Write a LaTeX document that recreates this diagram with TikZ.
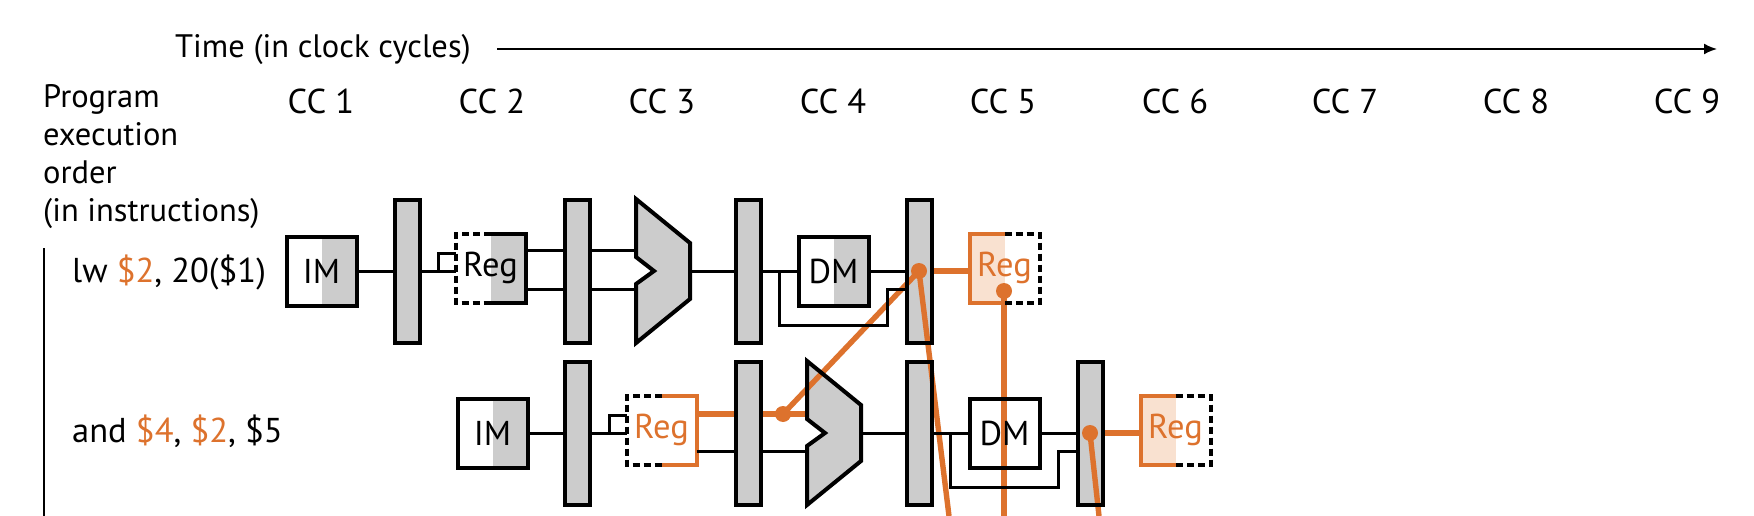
\documentclass[tikz,border=0pt]{standalone}
\usepackage{fontspec}
\setmainfont{PT Sans}
\usetikzlibrary{arrows.meta}
\definecolor{stagegray}{HTML}{CCCCCC}
\definecolor{fwdorange}{HTML}{DD722D}
\definecolor{wblight}{HTML}{F9E1D0}
\pgfdeclarelayer{back}
\pgfdeclarelayer{wire}
\pgfsetlayers{back,wire,main}
\tikzset{
    lbl/.style={font=\fontsize{32.5}{38}\selectfont, inner sep=0pt},
    biglbl/.style={font=\fontsize{34.5}{38}\selectfont, inner sep=0pt},
    pipereg/.style={draw, line width=4pt, outer sep=0pt, minimum width=25pt, minimum height=143pt},
    unitbox/.style={biglbl, line width=4pt, outer sep=0pt, minimum width=70pt, minimum height=69pt},
    alu/.style={draw, line width=4pt, line join=miter},
    halfdash/.style={line width=4pt, dash pattern=on 7pt off 4pt},
    halfline/.style={line width=4pt},
    bus/.style={line width=3pt},
    fwd/.style={fwdorange, line width=5.4pt},
    fwddot/.style={circle, fill=fwdorange, inner sep=0pt, minimum size=16pt}
}
\begin{document}
\begin{tikzpicture}[x=1pt, y=-1pt]
    \useasboundingbox (0,0) rectangle (1754,516);

    % header
    \node[lbl, anchor = west] (timelbl) at (175,50) {Time (in clock cycles)};
    \coordinate (timeend) at (1717,49);
    \draw[line width=1.8pt, -{Latex[length=13pt,width=11pt]}] (497,49) -- (timeend);
    \node[biglbl, anchor = center] (cc1) at (321,101) {CC 1};
    \node[biglbl, anchor = center] (cc2) at (492,101) {CC 2};
    \node[biglbl, anchor = center] (cc3) at (662,101) {CC 3};
    \node[biglbl, anchor = center] (cc4) at (833,101) {CC 4};
    \node[biglbl, anchor = center] (cc5) at (1003,101) {CC 5};
    \node[biglbl, anchor = center] (cc6) at (1175,101) {CC 6};
    \node[biglbl, anchor = center] (cc7) at (1345,101) {CC 7};
    \node[biglbl, anchor = center] (cc8) at (1516,101) {CC 8};
    \node[biglbl, anchor = center] (cc9) at (1687,101) {CC 9};
    \node[lbl, anchor = north west, align=left] (order) at (43,84) {Program\\execution\\order\\(in instructions)};
    \draw[line width=1.8pt] (44,248) -- (44,516);

    % instructions
    \node[biglbl, anchor = west] (instra) at (72,272) {lw \textcolor{fwdorange}{\$2}, 20(\$1)};
    \node[biglbl, anchor = west] (instrb) at (72,431) {and \textcolor{fwdorange}{\$4}, \textcolor{fwdorange}{\$2}, \$5};

    % first row
    \node[unitbox, draw] (ima) at (321.5,271) {IM};
    \node[pipereg] (pa) at (407,271.5) {};
    \node[unitbox] (rega) at (490.5,268) {Reg};
    \node[pipereg] (pb) at (577.5,271.5) {};
    \draw[alu] (636,199) -- (690,243) -- (690,299) -- (636,343) -- (636,284) -- (654,271) -- (636,257) -- cycle;
    \coordinate (aluaup) at (636,250);
    \coordinate (aluadn) at (636,289);
    \coordinate (aluaout) at (690,271);
    \node[pipereg] (pc) at (748.5,271.5) {};
    \node[unitbox, draw] (dma) at (833.5,271) {DM};
    \node[pipereg] (pd) at (919,271.5) {};
    \node[unitbox, text=fwdorange] (wba) at (1004.5,268) {Reg};

    % second row
    \node[unitbox, draw] (imb) at (492.5,433) {IM};
    \node[pipereg] (pe) at (577.5,433.5) {};
    \node[unitbox, text=fwdorange] (regb) at (661.5,430) {Reg};
    \node[pipereg] (pf) at (748.5,433.5) {};
    \draw[alu] (807,361) -- (861,405) -- (861,461) -- (807,505) -- (807,446) -- (825,433) -- (807,419) -- cycle;
    \coordinate (alubup) at (807,414);
    \coordinate (alubdn) at (807,451);
    \coordinate (alubout) at (861,433);
    \node[pipereg] (pg) at (919,433.5) {};
    \node[unitbox, draw] (dmb) at (1004.5,433) {DM};
    \node[pipereg] (ph) at (1090,433.5) {};
    \node[unitbox, text=fwdorange] (wbb) at (1175.5,430) {Reg};

    % fills
    \begin{pgfonlayer}{back}
        \fill[stagegray] (pa.south west) rectangle (pa.north east);
        \fill[stagegray] (pb.south west) rectangle (pb.north east);
        \fill[stagegray] (pc.south west) rectangle (pc.north east);
        \fill[stagegray] (pd.south west) rectangle (pd.north east);
        \fill[stagegray] (pe.south west) rectangle (pe.north east);
        \fill[stagegray] (pf.south west) rectangle (pf.north east);
        \fill[stagegray] (pg.south west) rectangle (pg.north east);
        \fill[stagegray] (ph.south west) rectangle (ph.north east);
        \fill[stagegray] (ima.south) rectangle (ima.north east);
        \fill[stagegray] (imb.south) rectangle (imb.north east);
        \fill[stagegray] (dma.south) rectangle (dma.north east);
        \fill[stagegray] (rega.south) rectangle (rega.north east);
        \fill[wblight] (wba.south west) rectangle (wba.north);
        \fill[wblight] (wbb.south west) rectangle (wbb.north);
        \fill[stagegray] (636,199) -- (690,243) -- (690,299) -- (636,343) -- (636,284) -- (654,271) -- (636,257) -- cycle;
        \fill[stagegray] (807,361) -- (861,405) -- (861,461) -- (807,505) -- (807,446) -- (825,433) -- (807,419) -- cycle;
    \end{pgfonlayer}

    % register halves
    \draw[halfdash] (rega.north) -- (rega.north west) -- (rega.south west) -- (rega.south);
    \draw[halfline] (rega.north) -- (rega.north east) -- (rega.south east) -- (rega.south);
    \draw[halfline, fwdorange] (wba.north) -- (wba.north west) -- (wba.south west) -- (wba.south);
    \draw[halfdash] (wba.north) -- (wba.north east) -- (wba.south east) -- (wba.south);
    \draw[halfdash] (regb.north) -- (regb.north west) -- (regb.south west) -- (regb.south);
    \draw[halfline, fwdorange] (regb.north) -- (regb.north east) -- (regb.south east) -- (regb.south);
    \draw[halfline, fwdorange] (wbb.north) -- (wbb.north west) -- (wbb.south west) -- (wbb.south);
    \draw[halfdash] (wbb.north) -- (wbb.north east) -- (wbb.south east) -- (wbb.south);

    % first row wires
    \draw[bus] (ima) -- (pa.west |- ima);
    \draw[bus] (pa.east |- ima) -- (rega.west |- ima);
    \draw[bus] (rega.west |- 0,253) -- (438,253) -- (438,271);
    \draw[bus] (rega.east |- 0,250) -- (pb.west |- 0,250);
    \draw[bus] (rega.east |- 0,289) -- (pb.west |- 0,289);
    \draw[bus] (pb.east |- 0,250) -- (aluaup);
    \draw[bus] (pb.east |- 0,289) -- (aluadn);
    \draw[bus] (aluaout) -- (pc.west |- 0,271);
    \draw[bus] (pc.east |- 0,271) -- (dma.west);
    \draw[bus] (dma.east) -- (pd.west |- 0,271);
    \draw[bus] (779,271) -- (779,325) -- (887,325) -- (887,289) -- (pd.west |- 0,289);

    % second row wires
    \draw[bus] (imb) -- (pe.west |- imb);
    \draw[bus] (pe.east |- imb) -- (regb.west |- imb);
    \draw[bus] (regb.west |- 0,415) -- (609,415) -- (609,433);
    \draw[bus] (regb.east |- 0,451) -- (pf.west |- 0,451);
    \draw[bus] (pf.east |- 0,451) -- (alubdn);
    \draw[bus] (alubout) -- (pg.west |- 0,433);
    \draw[bus] (pg.east |- 0,433) -- (dmb.west);
    \draw[bus] (dmb.east) -- (ph.west |- 0,433);
    \draw[bus] (950,433) -- (950,487) -- (1058,487) -- (1058,451) -- (ph.west |- 0,451);

    % forwarding
    \node[fwddot] (dota) at (919,271) {};
    \node[fwddot] (dotb) at (1004,291) {};
    \node[fwddot] (dotc) at (783,414) {};
    \node[fwddot] (dotd) at (1090,433) {};
    \coordinate (cuta) at (949,516);
    \coordinate (cutb) at (1004,516);
    \coordinate (cutc) at (1099,516);
    \begin{pgfonlayer}{wire}
        \draw[fwd] (dota.center) -- (cuta);
        \draw[fwd] (dotb.center) -- (cutb);
        \draw[fwd] (dotd.center) -- (cutc);
        \draw[fwd] (dota.center) -- (dotc.center);
        \draw[fwd] (pd.east |- 0,271) -- (wba.west |- 0,271);
        \draw[fwd] (regb.east |- 0,414) -- (pf.west |- 0,414);
        \draw[fwd] (pf.east |- 0,414) -- (alubup);
        \draw[fwd] (ph.east |- 0,433) -- (wbb.west |- 0,433);
    \end{pgfonlayer}
\end{tikzpicture}
\end{document}
